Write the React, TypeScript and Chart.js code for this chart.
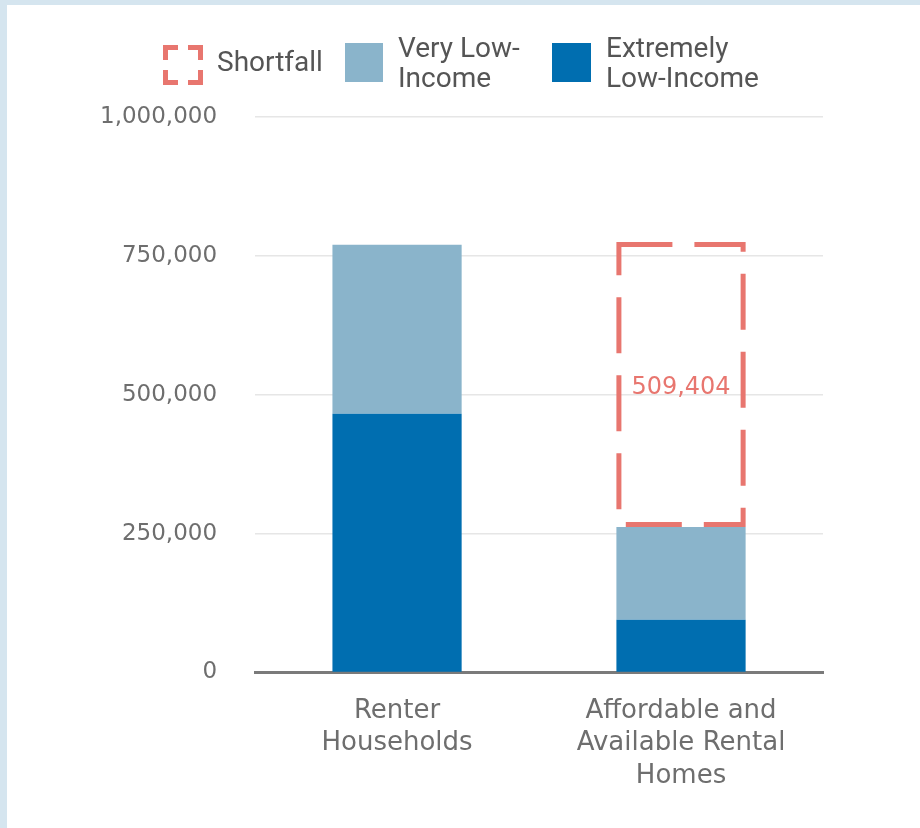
import React, { useEffect, useRef } from "react";
import { Chart, registerables } from "chart.js";

Chart.register(...registerables);

const categories: string[][] = [
  ["Renter", "Households"],
  ["Affordable and", "Available Rental", "Homes"],
];
const extremelyLowIncome = [466000, 95000];
const veryLowIncome = [304000, 167000];
const shortfall: (number | null)[] = [null, 509404];
const yTicks = [0, 250000, 500000, 750000, 1000000];

const SALMON = "#e8766f";
const LIGHT = "#8ab4cb";
const DARK = "#006eb0";
const TEXT = "#6e6e6e";

const shortfallPlugin = {
  id: "shortfallBox",
  afterDatasetsDraw(chart: any) {
    const meta = chart.getDatasetMeta(2);
    const ctx = chart.ctx;
    meta.data.forEach((el: any, i: number) => {
      const v = shortfall[i];
      if (v == null) return;
      const { x, y, base, width } = el.getProps(["x", "y", "base", "width"], true);
      const lw = 5;
      const top = Math.min(y, base) - 2;
      const h = Math.abs(base - y) + 2;
      const l = x - width / 2 + lw / 2;
      const r = x + width / 2 - lw / 2;
      const t = top + lw / 2;
      const b = top + h - lw / 2;
      ctx.save();
      ctx.strokeStyle = SALMON;
      ctx.lineWidth = lw;
      ctx.lineCap = "butt";
      ctx.lineJoin = "miter";
      ctx.setLineDash([56, 22]);
      ctx.lineDashOffset = 0;
      ctx.beginPath();
      ctx.moveTo(l - lw / 2, t);
      ctx.lineTo(r, t);
      ctx.lineTo(r, b);
      ctx.lineTo(l, b);
      ctx.lineTo(l, t);
      ctx.stroke();
      ctx.setLineDash([]);
      ctx.fillStyle = SALMON;
      ctx.font = '24px "DejaVu Sans"';
      ctx.textAlign = "center";
      ctx.textBaseline = "middle";
      ctx.fillText(v.toLocaleString("en-US"), x, top + h / 2 + 3);
      ctx.restore();
    });
  },
};

export default function App() {
  const ref = useRef<HTMLCanvasElement | null>(null);

  useEffect(() => {
    if (!ref.current) return;
    const chart = new Chart(ref.current, {
      type: "bar",
      data: {
        labels: categories as any,
        datasets: [
          { label: "Extremely Low-Income", data: extremelyLowIncome, backgroundColor: DARK, borderWidth: 0 },
          { label: "Very Low-Income", data: veryLowIncome, backgroundColor: LIGHT, borderWidth: 0 },
          { label: "Shortfall", data: shortfall as any, backgroundColor: "rgba(0,0,0,0)", borderWidth: 0 },
        ],
      },
      options: {
        responsive: false,
        animation: false,
        layout: { padding: { left: 55, right: 97, top: 112, bottom: 14 } },
        datasets: { bar: { barPercentage: 0.455, categoryPercentage: 1 } },
        plugins: { legend: { display: false }, tooltip: { enabled: false } },
        scales: {
          x: {
            stacked: true,
            grid: { display: false, drawTicks: false },
            border: { display: true, color: "#7a7a7a", width: 3 },
            ticks: {
              color: TEXT,
              font: { family: "DejaVu Sans", size: 26, lineHeight: 1.25 },
              padding: 22,
              maxRotation: 0,
            },
          },
          y: {
            stacked: true,
            min: 0,
            max: 1000000,
            afterBuildTicks: (axis: any) => {
              axis.ticks = yTicks.map((v) => ({ value: v }));
            },
            grid: {
              drawTicks: false,
              color: (c: any) => (c.tick && c.tick.value === 0 ? "rgba(0,0,0,0)" : "#e6e6e6"),
              lineWidth: 1.5,
            },
            border: { display: false },
            ticks: {
              color: TEXT,
              font: { family: "DejaVu Sans", size: 23 },
              padding: 38,
              callback: (v: any) => Number(v).toLocaleString("en-US"),
            },
          },
        },
      },
      plugins: [shortfallPlugin],
    } as any);
    return () => chart.destroy();
  }, []);

  const legendText: React.CSSProperties = {
    position: "absolute",
    fontFamily: "Roboto, sans-serif",
    fontSize: 28,
    lineHeight: "30px",
    color: "#555",
    whiteSpace: "nowrap",
  };

  return (
    <div style={{ position: "fixed", left: 0, top: 0, width: 920, height: 828, background: "#d5e5ef" }}>
      <div style={{ position: "absolute", left: 7, top: 5, width: 913, height: 823, background: "#fff" }}>
        <canvas ref={ref} width={913} height={823} style={{ position: "absolute", left: 0, top: 0 }} />
        <svg style={{ position: "absolute", left: 156, top: 40 }} width={40} height={40}>
          <rect x={2.5} y={2.5} width={35} height={35} fill="none" stroke={SALMON} strokeWidth={5}
            strokeDasharray="25 10" strokeDashoffset={12.5} />
        </svg>
        <div style={{ ...legendText, left: 210, top: 42 }}>Shortfall</div>
        <div style={{ position: "absolute", left: 338, top: 38, width: 38, height: 39, background: LIGHT }} />
        <div style={{ ...legendText, left: 391, top: 28 }}>Very Low-<br />Income</div>
        <div style={{ position: "absolute", left: 545, top: 38, width: 39, height: 39, background: DARK }} />
        <div style={{ ...legendText, left: 599, top: 28 }}>Extremely<br />Low-Income</div>
      </div>
    </div>
  );
}
